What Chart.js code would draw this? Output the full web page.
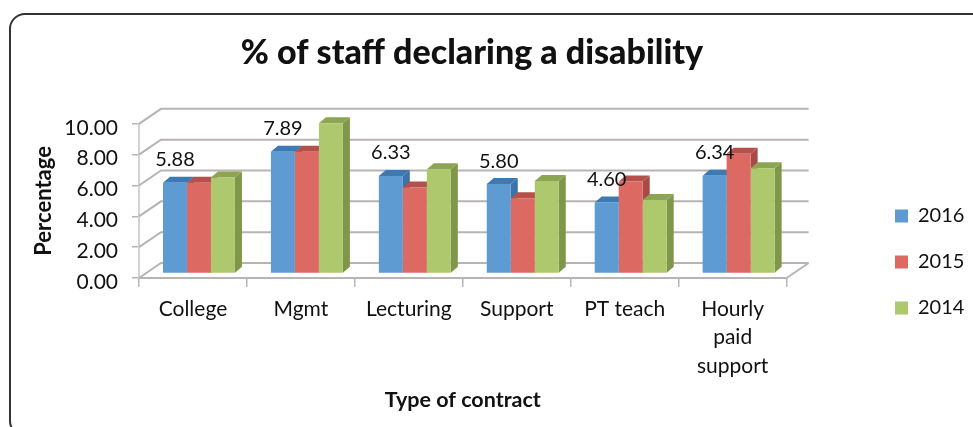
<!DOCTYPE html>
<html>
<head>
<meta charset="utf-8">
<style>
  html, body { margin: 0; padding: 0; background: #fff; overflow: hidden; }
  #wrap { position: relative; width: 973px; height: 427px; overflow: hidden; }
  #frame { position: absolute; left: 9px; top: 13px; width: 1000px; height: 420px; border: 2px solid #333; border-radius: 16px; }
  canvas { position: absolute; left: 0; top: 0; }
</style>
<script src="https://cdn.jsdelivr.net/npm/chart.js@4"></script>
</head>
<body>
<div id="wrap">
  <div id="frame"></div>
  <canvas id="chart" width="973" height="427"></canvas>
</div>
<script>
const categories = ["College", "Mgmt", "Lecturing", "Support", "PT teach", ["Hourly", "paid", "support"]];
const values2016 = [5.88, 7.89, 6.33, 5.80, 4.60, 6.34];
const values2015 = [5.88, 7.89, 5.57, 4.88, 5.96, 7.76];
const values2014 = [6.22, 9.75, 6.76, 6.00, 4.77, 6.83];
const seriesNames = ["2016", "2015", "2014"];

const fronts = ["#5f9bd3", "#dc6a62", "#aec86e"];
const sides = ["#3b74a8", "#a84a45", "#7f9749"];
const tops = ["#3d7ab3", "#b5504a", "#8ba552"];
const gridColor = "#b9b3b3";
const fontName = "Lato, 'Open Sans', sans-serif";

const wallDx = 22, wallDy = 15;   // back wall offset from the front axes
const barDx = 6, barDy = 4.5;     // bars stand a bit behind the front axes
const sideDx = 7, sideDy = 6;     // depth of each bar

const bars3d = {
  id: "bars3d",
  afterLayout(chart) {
    // move legend and title to where the original has them
    const lg = chart.legend;
    const lw = lg.right - lg.left, lh = lg.bottom - lg.top;
    lg.left = 869; lg.right = 869 + lw;
    lg.top = 180; lg.bottom = 180 + lh;
    const t = chart.titleBlock;
    t.left = 0; t.right = 944;
  },
  beforeDatasetsDraw(chart) {
    const { ctx, chartArea: a } = chart;
    const ys = chart.scales.y;

    // back wall and floor lines
    ctx.save();
    ctx.strokeStyle = gridColor;
    ctx.lineWidth = 2;
    ys.ticks.forEach((t) => {
      const y = ys.getPixelForValue(t.value);
      ctx.beginPath();
      ctx.moveTo(a.left, y);
      ctx.lineTo(a.left + wallDx, y - wallDy);
      ctx.lineTo(a.right + wallDx, y - wallDy);
      ctx.stroke();
    });
    ctx.beginPath();
    ctx.moveTo(a.right, a.bottom);
    ctx.lineTo(a.right + wallDx, a.bottom - wallDy);
    ctx.stroke();
    ctx.restore();

    // sides and tops first, the library draws the fronts over them
    ctx.save();
    ctx.translate(barDx, -barDy);
    [0, 1, 2].forEach((i) => {
      chart.getDatasetMeta(i).data.forEach((bar) => {
        const p = bar.getProps(["x", "y", "base", "width"], true);
        const l = p.x - p.width / 2, r = p.x + p.width / 2;
        ctx.fillStyle = sides[i];
        ctx.beginPath();
        ctx.moveTo(r, p.y);
        ctx.lineTo(r + sideDx, p.y - sideDy);
        ctx.lineTo(r + sideDx, p.base - sideDy);
        ctx.lineTo(r, p.base);
        ctx.closePath();
        ctx.fill();
        ctx.fillStyle = tops[i];
        ctx.beginPath();
        ctx.moveTo(l, p.y);
        ctx.lineTo(l + sideDx, p.y - sideDy);
        ctx.lineTo(r + sideDx, p.y - sideDy);
        ctx.lineTo(r, p.y);
        ctx.closePath();
        ctx.fill();
      });
    });
    ctx.restore();

    ctx.save();
    ctx.translate(barDx, -barDy);
  },
  afterDatasetsDraw(chart) {
    const { ctx } = chart;
    ctx.restore();
    // only the 2016 series carries value labels
    ctx.save();
    ctx.fillStyle = "#111";
    ctx.font = "20px " + fontName;
    ctx.textAlign = "center";
    ctx.textBaseline = "middle";
    chart.getDatasetMeta(0).data.forEach((bar, i) => {
      ctx.fillText(values2016[i].toFixed(2), bar.x + barDx, bar.y - barDy - 23);
    });
    ctx.restore();
  }
};

new Chart(document.getElementById("chart"), {
  type: "bar",
  data: {
    labels: categories,
    datasets: [
      { label: seriesNames[0], data: values2016, backgroundColor: fronts[0] },
      { label: seriesNames[1], data: values2015, backgroundColor: fronts[1] },
      { label: seriesNames[2], data: values2014, backgroundColor: fronts[2] }
    ]
  },
  options: {
    responsive: false,
    animation: false,
    categoryPercentage: 0.667,
    barPercentage: 1,
    layout: { padding: { left: 0, right: 81, top: 0, bottom: 10 } },
    datasets: { bar: { clip: false } },
    plugins: {
      tooltip: { enabled: false },
      title: {
        display: true,
        text: "% of staff declaring a disability",
        color: "#111",
        font: { family: fontName, size: 34, weight: "900" },
        padding: { top: 33, bottom: 50 }
      },
      legend: {
        position: "right",
        align: "start",
        onClick: null,
        labels: {
          color: "#111",
          font: { family: fontName, size: 20 },
          boxWidth: 13,
          boxHeight: 13,
          padding: 26
        }
      }
    },
    scales: {
      x: {
        afterFit(scale) { scale.height = 139; },
        border: { color: gridColor, width: 2 },
        grid: { drawOnChartArea: false, color: gridColor, tickLength: 9, lineWidth: 1.5, offset: true },
        ticks: {
          color: "#111",
          font: { family: fontName, size: 21, lineHeight: 1.35 },
          autoSkip: false,
          maxRotation: 0,
          padding: 8
        },
        title: {
          display: true,
          text: "Type of contract",
          color: "#111",
          font: { family: fontName, size: 21.5, weight: "bold" },
          padding: { top: 4, bottom: 4 }
        }
      },
      y: {
        min: 0,
        max: 10,
        afterFit(scale) { scale.width = 139; },
        border: { color: "#d6d2d2", width: 2 },
        grid: { drawOnChartArea: false, color: gridColor, tickLength: 7, lineWidth: 1.5 },
        ticks: {
          stepSize: 2,
          color: "#111",
          font: { family: fontName, size: 21 },
          padding: 14,
          labelOffset: 4,
          callback: (v) => Number(v).toFixed(2)
        },
        title: {
          display: true,
          text: "Percentage",
          color: "#111",
          font: { family: fontName, size: 22, weight: "bold" },
          padding: { top: 31, bottom: 0 }
        }
      }
    }
  },
  plugins: [bars3d]
});
</script>
</body>
</html>
